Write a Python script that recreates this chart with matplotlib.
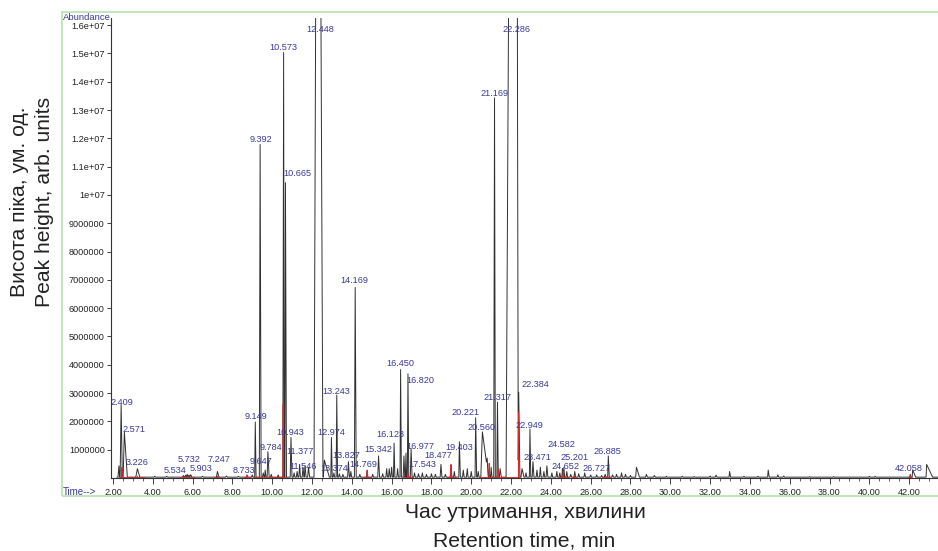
import numpy as np
import matplotlib.pyplot as plt
from matplotlib.patches import Rectangle
from matplotlib.ticker import FuncFormatter, MultipleLocator

plt.rcParams['font.family'] = ['Liberation Sans', 'DejaVu Sans']

# peak table: apex time (min), height (x1e6 counts),
# foot widths left/right of the apex (min)
peak_t = [
    2.30, 2.409, 2.571, 3.226, 4.10, 4.70, 5.534, 5.65,
    5.732, 5.82, 5.903, 6.50, 7.247, 7.70, 8.30, 8.733,
    9.00, 9.149, 9.392, 9.55, 9.647, 9.784, 9.95, 10.30,
    10.573, 10.665, 10.943, 11.10, 11.25, 11.377, 11.546, 11.65,
    11.82, 12.30, 12.62, 12.974, 13.10, 13.243, 13.374, 13.55,
    13.827, 13.95, 14.169, 14.40, 14.769, 15.05, 15.342, 15.55,
    15.75, 15.88, 16.00, 16.123, 16.30, 16.450, 16.62, 16.72,
    16.820, 16.977, 17.15, 17.35, 17.543, 17.75, 18.00, 18.20,
    18.477, 18.70, 18.98, 19.15, 19.403, 19.60, 19.80, 20.00,
    20.221, 20.35, 20.560, 20.80, 20.90, 21.00, 21.169, 21.317,
    21.45, 22.20, 22.384, 22.55, 22.75, 22.949, 23.10, 23.30,
    23.471, 23.65, 23.80, 24.05, 24.30, 24.45, 24.582, 24.652,
    24.80, 25.00, 25.201, 25.40, 25.70, 26.00, 26.30, 26.55,
    26.727, 26.885, 27.10, 27.30, 27.55, 27.75, 28.00, 28.30,
    28.80, 29.20, 29.80, 30.60, 31.20, 32.00, 32.30, 32.98,
    33.70, 34.40, 34.92, 35.40, 35.70, 37.00, 38.20, 40.00,
    40.30, 42.058, 42.18, 42.88]
peak_h = [
    0.40, 2.55, 1.60, 0.30, 0.03, 0.03, 0.06, 0.07,
    0.10, 0.07, 0.09, 0.03, 0.20, 0.04, 0.03, 0.08,
    0.08, 1.95, 11.75, 0.15, 0.25, 0.90, 0.10, 0.08,
    15.0, 10.4, 1.40, 0.15, 0.20, 0.45, 0.35, 0.40,
    0.35, 40.0, 0.60, 1.40, 0.15, 2.90, 0.12, 0.10,
    0.55, 0.20, 6.70, 0.10, 0.25, 0.10, 0.75, 0.12,
    0.30, 0.30, 0.35, 1.20, 0.30, 3.80, 0.75, 0.85,
    3.65, 1.00, 0.15, 0.12, 0.15, 0.10, 0.12, 0.10,
    0.45, 0.10, 0.45, 0.20, 1.25, 0.25, 0.30, 0.20,
    2.10, 0.20, 1.60, 0.35, 0.30, 0.35, 13.4, 2.65,
    0.30, 60.0, 3.00, 0.30, 0.15, 1.70, 0.55, 0.25,
    0.35, 0.20, 0.40, 0.15, 0.20, 0.15, 0.30, 0.35,
    0.20, 0.10, 0.20, 0.12, 0.15, 0.08, 0.08, 0.06,
    0.10, 0.75, 0.08, 0.10, 0.15, 0.10, 0.06, 0.35,
    0.10, 0.06, 0.03, 0.03, 0.02, 0.04, 0.07, 0.20,
    0.03, 0.03, 0.25, 0.08, 0.04, 0.02, 0.02, 0.03,
    0.03, 0.10, 0.25, 0.45]
peak_wl = [
    0.05, 0.05, 0.06, 0.08, 0.05, 0.05, 0.04, 0.04,
    0.04, 0.03, 0.04, 0.05, 0.05, 0.05, 0.05, 0.04,
    0.04, 0.03, 0.04, 0.04, 0.03, 0.04, 0.04, 0.04,
    0.04, 0.03, 0.04, 0.04, 0.04, 0.04, 0.04, 0.04,
    0.04, 0.20, 0.05, 0.03, 0.04, 0.03, 0.04, 0.04,
    0.04, 0.04, 0.04, 0.04, 0.04, 0.04, 0.04, 0.04,
    0.04, 0.04, 0.04, 0.03, 0.04, 0.03, 0.04, 0.03,
    0.03, 0.04, 0.04, 0.04, 0.04, 0.04, 0.04, 0.04,
    0.04, 0.04, 0.04, 0.04, 0.03, 0.04, 0.04, 0.04,
    0.03, 0.04, 0.08, 0.04, 0.03, 0.03, 0.04, 0.03,
    0.04, 0.45, 0.03, 0.05, 0.04, 0.03, 0.04, 0.04,
    0.04, 0.04, 0.04, 0.04, 0.04, 0.04, 0.03, 0.03,
    0.04, 0.04, 0.04, 0.04, 0.04, 0.04, 0.04, 0.04,
    0.04, 0.03, 0.04, 0.04, 0.04, 0.04, 0.04, 0.04,
    0.04, 0.04, 0.04, 0.04, 0.04, 0.04, 0.04, 0.03,
    0.04, 0.04, 0.03, 0.04, 0.04, 0.04, 0.04, 0.04,
    0.04, 0.03, 0.03, 0.03]
peak_wr = [
    0.03, 0.06, 0.15, 0.12, 0.05, 0.05, 0.05, 0.04,
    0.05, 0.04, 0.06, 0.05, 0.08, 0.05, 0.05, 0.05,
    0.04, 0.04, 0.05, 0.04, 0.04, 0.06, 0.04, 0.04,
    0.03, 0.05, 0.05, 0.04, 0.04, 0.04, 0.05, 0.05,
    0.06, 0.25, 0.25, 0.04, 0.04, 0.04, 0.04, 0.04,
    0.05, 0.04, 0.05, 0.04, 0.04, 0.04, 0.05, 0.04,
    0.04, 0.04, 0.04, 0.04, 0.04, 0.04, 0.04, 0.03,
    0.04, 0.05, 0.04, 0.04, 0.04, 0.04, 0.04, 0.04,
    0.05, 0.04, 0.05, 0.04, 0.05, 0.04, 0.04, 0.04,
    0.05, 0.04, 0.30, 0.04, 0.03, 0.04, 0.04, 0.04,
    0.06, 0.16, 0.06, 0.10, 0.04, 0.04, 0.05, 0.04,
    0.04, 0.04, 0.05, 0.04, 0.04, 0.04, 0.04, 0.04,
    0.04, 0.04, 0.04, 0.04, 0.04, 0.04, 0.04, 0.04,
    0.04, 0.05, 0.04, 0.04, 0.04, 0.04, 0.04, 0.15,
    0.05, 0.05, 0.04, 0.04, 0.04, 0.04, 0.05, 0.05,
    0.04, 0.04, 0.05, 0.05, 0.04, 0.04, 0.04, 0.04,
    0.04, 0.03, 0.15, 0.30]
baseline = 0.03e6
run_start, run_end = 2.2, 43.45

# red integration marks (time, height x1e6) and integrated segments (min)
red_t = [2.45, 3.23, 5.73, 7.25, 8.73, 10.55, 14.77, 16.82,
         18.98, 20.90, 21.35, 22.38, 24.62, 25.20, 26.85, 42.06]
red_h = [0.35, 0.05, 0.04, 0.05, 0.06, 2.60, 0.25, 0.15,
         0.45, 0.50, 0.30, 2.30, 0.22, 0.06, 0.10, 0.08]
red_seg_start = [2.30, 5.40, 7.10, 8.60, 9.05, 14.60, 16.60, 18.80,
                 20.40, 24.40, 25.10, 26.60, 41.95]
red_seg_end = [3.60, 6.10, 7.40, 8.90, 10.70, 15.00, 17.10, 19.20,
               22.45, 24.90, 25.30, 27.00, 42.15]

# labelled retention times
labels = ['2.409', '2.571', '3.226', '5.534', '5.732', '5.903', '7.247', '8.733',
          '9.149', '9.392', '9.647', '9.784', '10.573', '10.665', '10.943',
          '11.377', '11.546', '12.448', '12.974', '13.243', '13.374', '13.827',
          '14.169', '14.769', '15.342', '16.123', '16.450', '16.820', '16.977',
          '17.543', '18.477', '19.403', '20.221', '20.560', '21.169', '21.317',
          '22.286', '22.384', '22.949', '23.471', '24.582', '24.652', '25.201',
          '26.727', '26.885', '42.058']

# where each label sits (data coordinates)
label_x = [2.45, 3.06, 3.21, 5.12, 5.82, 6.42, 7.33, 8.58,
           9.19, 9.44, 9.44, 9.94, 10.54, 11.25, 10.89,
           11.40, 11.55, 12.40, 12.95, 13.21, 13.11, 13.71,
           14.11, 14.56, 15.32, 15.92, 16.42, 17.43, 17.43,
           17.53, 18.33, 19.39, 19.69, 20.54, 21.15, 21.30,
           22.25, 23.21, 22.90, 23.31, 24.51, 24.75, 25.17,
           26.27, 26.82, 42.00]
label_y = [2.68, 1.73, 0.53, 0.25, 0.67, 0.32, 0.64, 0.25,
           2.19, 11.97, 0.60, 1.06, 15.22, 10.74, 1.59,
           0.95, 0.42, 15.86, 1.59, 3.07, 0.35, 0.81,
           6.99, 0.46, 0.99, 1.55, 4.03, 3.43, 1.13,
           0.46, 0.78, 1.06, 2.30, 1.80, 13.60, 2.86,
           15.86, 3.32, 1.87, 0.71, 1.20, 0.39, 0.74,
           0.35, 0.95, 0.35]

BLUE = '#3a3a98'

pt = np.array(peak_t)
ph = np.array(peak_h) * 1e6
wl = np.array(peak_wl)
wr = np.array(peak_wr)

grid = np.unique(np.concatenate([[run_start, run_end], pt - wl, pt, pt + wr]))
grid = grid[(grid >= run_start) & (grid <= run_end)]
trace = np.full(grid.shape, baseline)
for t, h, a, b in zip(pt, ph, wl, wr):
    trace += np.interp(grid, [t - a, t, t + b], [0, h, 0], left=0, right=0)

# red integration trace, one piece per segment
rx, ry = [], []
for s, e in zip(red_seg_start, red_seg_end):
    marks = [(t, h * 1e6) for t, h in zip(red_t, red_h) if s < t < e]
    g = [s, e]
    for t, h in marks:
        g += [t - 0.012, t, t + 0.012]
    g = np.array(sorted(g))
    v = np.full(g.shape, 0.015e6)
    for t, h in marks:
        v += np.interp(g, [t - 0.012, t, t + 0.012], [0, h, 0], left=0, right=0)
    rx += list(g) + [np.nan]
    ry += list(v) + [np.nan]

fig = plt.figure(figsize=(9.38, 5.51), dpi=100)
ax = fig.add_axes([111 / 938, 73 / 551, 827 / 938, 460 / 551])

ax.plot(grid, trace, color='#303030', lw=0.7)
ax.plot(rx, ry, color='#d42a2a', lw=0.7)

for txt, x, y in zip(labels, label_x, label_y):
    ax.text(x, y * 1e6, txt, ha='center', va='center', fontsize=6.6, color=BLUE)

ax.set_xlim(1.9, 43.45)
ax.set_ylim(0, 16.25e6)

for s in ['top', 'right']:
    ax.spines[s].set_visible(False)
for s in ['left', 'bottom']:
    ax.spines[s].set_color('#333333')
    ax.spines[s].set_linewidth(0.8)

ax.set_yticks(np.arange(1, 17) * 1e6)
ax.yaxis.set_major_formatter(FuncFormatter(
    lambda v, p: '%d' % v if v < 1e7 else '%g' % v))
ax.set_xticks(np.arange(2, 43, 2))
ax.xaxis.set_major_formatter(FuncFormatter(lambda v, p: '%.2f' % v))
ax.xaxis.set_minor_locator(MultipleLocator(0.5))
ax.tick_params(axis='y', length=3, width=0.6, pad=1.5, labelsize=6.6, colors='#222222')
ax.tick_params(axis='x', which='major', length=4, width=0.6, pad=3, labelsize=6.6,
               colors='#222222')
ax.tick_params(axis='x', which='minor', length=2, width=0.5, colors='#222222')

fig.patches.append(Rectangle((62 / 938, 1 - 496 / 551), 0.95, 484 / 551,
                             transform=fig.transFigure, fill=False,
                             edgecolor='#c4e5bc', lw=1.5))
fig.text(63 / 938, 1 - 18 / 551, 'Abundance', ha='left', va='center',
         fontsize=6.8, color=BLUE)
fig.text(63 / 938, 1 - 492 / 551, 'Time-->', ha='left', va='center',
         fontsize=7, color=BLUE)

fig.text(19 / 938, 1 - 202 / 551, 'Висота піка, ум. од.', rotation=90,
         ha='center', va='center', fontsize=15.2, color='#222222')
fig.text(44 / 938, 1 - 202 / 551, 'Peak height, arb. units', rotation=90,
         ha='center', va='center', fontsize=15.2, color='#222222')
fig.text(525 / 938, 1 - 512 / 551, 'Час утримання, хвилини',
         ha='center', va='center', fontsize=15.2, color='#222222')
fig.text(524 / 938, 1 - 541 / 551, 'Retention time, min',
         ha='center', va='center', fontsize=15.2, color='#222222')

fig.savefig('out.png', dpi=100)
